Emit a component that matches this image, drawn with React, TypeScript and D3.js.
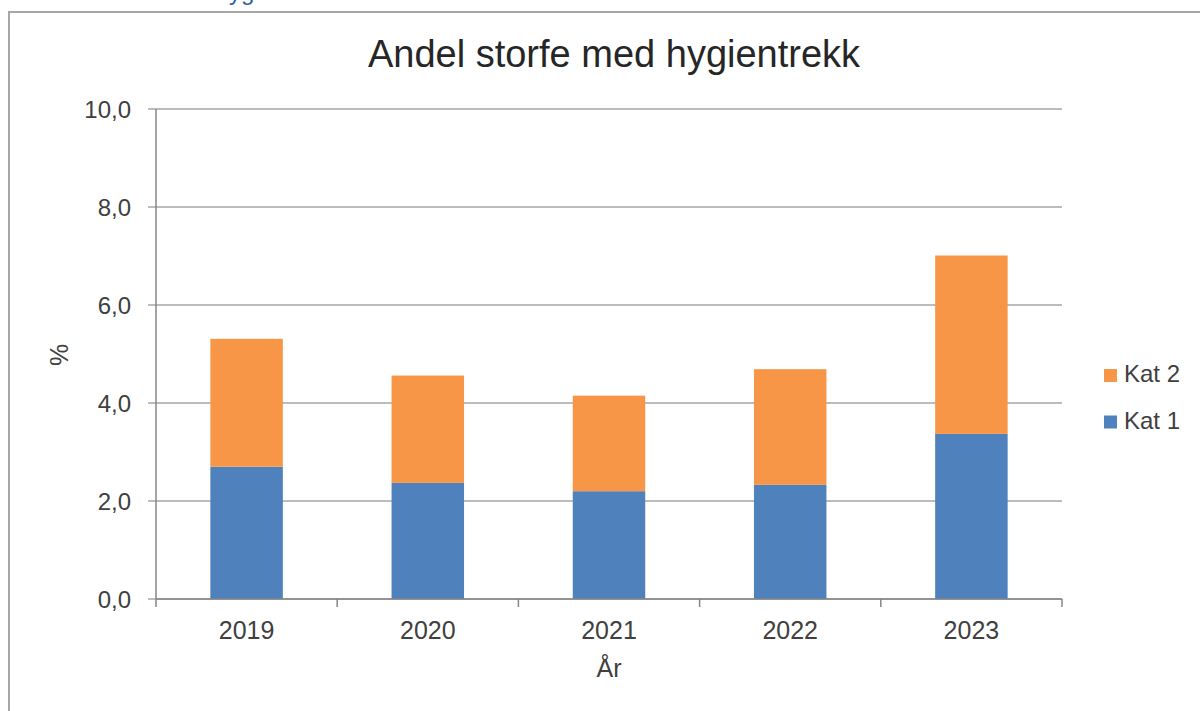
import React from "react";
import * as d3 from "d3";

const years = ["2019", "2020", "2021", "2022", "2023"];
const kat1 = [2.7, 2.37, 2.2, 2.33, 3.37];
const kat2 = [2.61, 2.19, 1.95, 2.36, 3.64];
const yTicks = [0, 2, 4, 6, 8, 10];
const seriesNames = ["Kat 1", "Kat 2"];
const seriesColors = ["#4F81BD", "#F79646"];

const W = 1200;
const H = 711;
const plot = { left: 156, right: 1062, top: 109, bottom: 599 };
const FONT = "'Liberation Sans', Arial, sans-serif";

export default function App() {
  const x = d3
    .scaleBand<string>()
    .domain(years)
    .range([plot.left, plot.right])
    .paddingInner(0.6)
    .paddingOuter(0.3);
  const y = d3.scaleLinear().domain([0, 10]).range([plot.bottom, plot.top]);

  const rows = years.map((yr, i) => ({ year: yr, k1: kat1[i], k2: kat2[i] }));
  const stack = d3.stack<any>().keys(["k1", "k2"])(rows);

  const step = x.step();
  const boundaries = d3.range(years.length + 1).map((i) => plot.left + i * step);
  const fmt = (v: number) => v.toFixed(1).replace(".", ",");

  return (
    <svg
      width={W}
      height={H}
      style={{ position: "absolute", left: 0, top: 0, background: "#fff" }}
      fontFamily={FONT}
    >
      <rect x={0} y={0} width={W} height={H} fill="#fff" />
      {/* cut-off heading above the frame */}
      <text x={229} y={0} fontSize={24} fill="#2E5EA8" fontFamily={FONT}>
        yg
      </text>
      {/* outer frame */}
      <path d={`M9,${H + 5} L9,12 L${W + 5},12`} fill="none" stroke="#A6A6A6" strokeWidth={2} />

      {/* title */}
      <text x={614} y={67} textAnchor="middle" fontSize={38} fill="#262626">
        Andel storfe med hygientrekk
      </text>

      {/* gridlines */}
      {yTicks.map((t) => (
        <line
          key={"g" + t}
          x1={plot.left - 8}
          x2={plot.right}
          y1={y(t)}
          y2={y(t)}
          stroke="#A6A6A6"
          strokeWidth={1.5}
        />
      ))}

      {/* bars */}
      {stack.map((s, si) =>
        s.map((d: any, i: number) => (
          <rect
            key={`b${si}-${i}`}
            x={x(years[i])}
            width={x.bandwidth()}
            y={y(d[1])}
            height={y(d[0]) - y(d[1])}
            fill={seriesColors[si]}
          />
        ))
      )}

      {/* y axis */}
      <line x1={plot.left} x2={plot.left} y1={plot.top} y2={plot.bottom} stroke="#868686" strokeWidth={1.5} />
      {yTicks.map((t) => (
        <text
          key={"yt" + t}
          x={131}
          y={y(t)}
          dy="0.36em"
          textAnchor="end"
          fontSize={24}
          fill="#404040"
        >
          {fmt(t)}
        </text>
      ))}

      {/* x axis */}
      <line x1={plot.left} x2={plot.right} y1={plot.bottom} y2={plot.bottom} stroke="#868686" strokeWidth={1.5} />
      {boundaries.map((b, i) => (
        <line key={"xt" + i} x1={b} x2={b} y1={plot.bottom} y2={plot.bottom + 8} stroke="#868686" strokeWidth={1.5} />
      ))}
      {years.map((yr) => (
        <text
          key={"xl" + yr}
          x={(x(yr) as number) + x.bandwidth() / 2}
          y={639}
          textAnchor="middle"
          fontSize={25}
          fill="#404040"
        >
          {yr}
        </text>
      ))}

      {/* axis titles */}
      <text x={609} y={677} textAnchor="middle" fontSize={25} fill="#404040">
        År
      </text>
      <text
        transform={`translate(68,355) rotate(-90)`}
        textAnchor="middle"
        fontSize={25}
        fill="#404040"
      >
        %
      </text>

      {/* legend (Kat 2 on top) */}
      {[1, 0].map((si, j) => (
        <g key={"lg" + si} transform={`translate(1104, ${369 + j * 46.5})`}>
          <rect x={0} y={0} width={13} height={13} fill={seriesColors[si]} />
          <text x={20} y={13} fontSize={24} fill="#404040">
            {seriesNames[si]}
          </text>
        </g>
      ))}
    </svg>
  );
}
